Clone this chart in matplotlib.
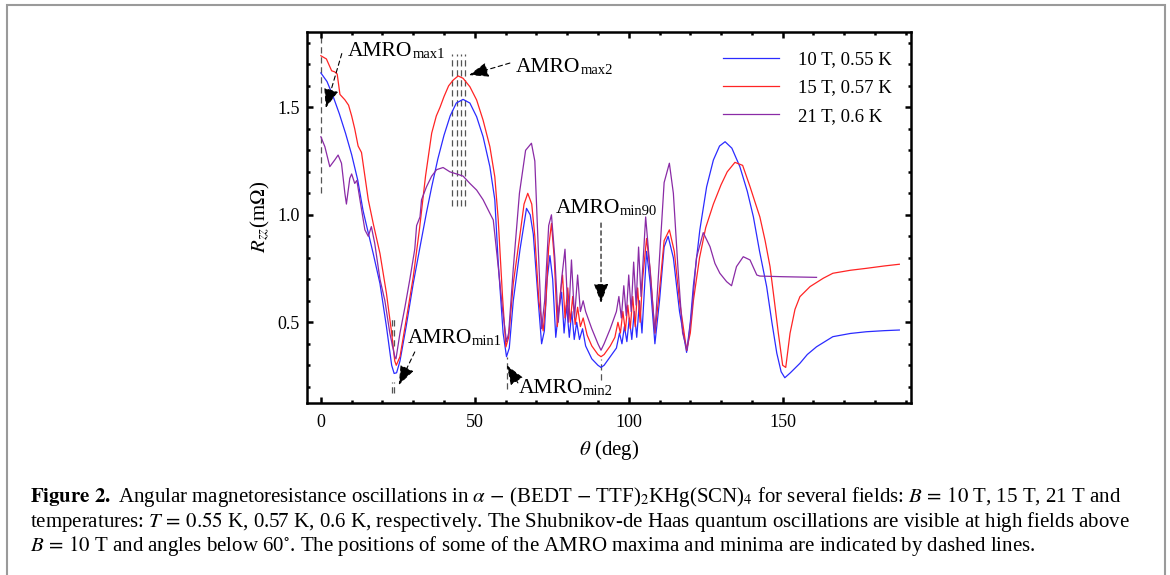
"""Angular magnetoresistance R_zz(theta) at three field/temperature settings."""

import matplotlib

matplotlib.use("Agg")
import matplotlib.pyplot as plt
from matplotlib.patches import Rectangle
from matplotlib.ticker import FormatStrFormatter, MultipleLocator

plt.rcParams["font.family"] = ["Liberation Serif", "DejaVu Serif"]
plt.rcParams["mathtext.fontset"] = "stix"

# --- measured curves (theta in deg, R_zz in mOhm) ---
theta_10T = [0, 2, 4, 6, 8, 10, 12, 13.7, 15, 17, 19.2, 21.3, 23, 23.8, 24.6, 25.7,
             27.7, 30, 32.2, 34.3, 36, 38, 40, 42, 44, 46.2, 48.4, 50.6, 52.7, 54.9,
             56.5, 57.6, 59.2, 60.3, 61.2, 62.5, 64.7, 66.8, 68, 69, 70.6, 71.7,
             72.6, 73.5, 74.4, 75.3, 76.3, 77.2, 78.2, 79, 79.8, 80.7, 81.5, 82.3,
             83.1, 84, 85, 86, 88, 90, 91, 92, 94, 96, 97, 97.8, 98.6, 99.4, 100.2,
             101, 101.8, 102.6, 103.5, 104.3, 105.8, 107, 108.5, 110, 111.5, 112.8,
             114.5, 116.5, 118.8, 120, 121, 123.1, 125.3, 127.5, 129.5, 131.3, 133.5,
             136.1, 138.5, 140.5, 142.5, 144.8, 146.5, 148.1, 149.5, 150.7, 152.5,
             155.6, 158, 161, 166.3, 172, 177.2, 183, 187.9]
r_10T = [1.66, 1.62, 1.55, 1.47, 1.38, 1.28, 1.16, 1.02, 0.94, 0.82, 0.68, 0.48, 0.30,
         0.262, 0.265, 0.32, 0.48, 0.68, 0.85, 1.01, 1.13, 1.26, 1.37, 1.46, 1.52,
         1.537, 1.52, 1.456, 1.363, 1.224, 1.07, 0.78, 0.45, 0.34, 0.38, 0.60, 0.84,
         1.03, 1.00, 0.91, 0.60, 0.40, 0.46, 0.70, 0.81, 0.70, 0.43, 0.55, 0.64, 0.45,
         0.58, 0.43, 0.55, 0.42, 0.50, 0.42, 0.47, 0.39, 0.33, 0.30, 0.29, 0.30, 0.34,
         0.38, 0.45, 0.40, 0.48, 0.41, 0.52, 0.42, 0.55, 0.43, 0.60, 0.45, 0.83, 0.68,
         0.40, 0.60, 0.85, 0.90, 0.80, 0.55, 0.36, 0.50, 0.67, 0.93, 1.13, 1.255, 1.32,
         1.34, 1.31, 1.224, 1.11, 0.99, 0.83, 0.666, 0.50, 0.356, 0.27, 0.242, 0.265,
         0.309, 0.35, 0.386, 0.433, 0.448, 0.456, 0.461, 0.464]

theta_15T = [0, 1.8, 3.5, 4.5, 5.3, 6.2, 7.8, 9, 10, 11, 12.1, 13.2, 14.8, 15.4, 17,
             19.2, 21.3, 23, 24, 24.5, 25.7, 27.7, 30, 32, 34, 36, 37.5, 38.7, 40,
             41.5, 43, 44.6, 46.2, 48.4, 50.6, 52.7, 54.9, 56.5, 57.6, 59, 60.1, 61,
             62.5, 64.7, 66, 67.2, 68.5, 69.5, 70.8, 72.2, 73, 74, 74.9, 75.8, 76.8,
             77.7, 78.5, 79.3, 80.2, 81, 81.8, 82.6, 83.4, 84.3, 85.2, 86.5, 88, 90,
             91, 92, 94, 95.5, 96.5, 97.3, 98.1, 98.9, 99.7, 100.5, 101.3, 102.1,
             102.9, 103.7, 104.5, 105.8, 107, 108.5, 110, 111.5, 113.2, 114.8, 116.5,
             118.8, 120, 121, 123, 125, 127.5, 130, 132, 134.5, 137, 139.4, 141, 142.6,
             144.3, 145.9, 147.3, 148.6, 150, 151, 152.4, 154, 155.6, 158.9, 163.2,
             166.3, 172, 177.2, 183, 187.9]
r_15T = [1.74, 1.725, 1.67, 1.665, 1.655, 1.56, 1.535, 1.51, 1.46, 1.40, 1.32, 1.29,
         1.13, 1.07, 0.96, 0.82, 0.635, 0.45, 0.32, 0.30, 0.34, 0.51, 0.71, 0.93, 1.18,
         1.38, 1.46, 1.50, 1.55, 1.60, 1.627, 1.646, 1.635, 1.596, 1.534, 1.44, 1.317,
         1.177, 0.98, 0.62, 0.385, 0.43, 0.68, 0.91, 1.05, 1.10, 1.05, 0.90, 0.60, 0.46,
         0.58, 0.85, 0.96, 0.80, 0.48, 0.62, 0.72, 0.52, 0.66, 0.50, 0.62, 0.49, 0.57,
         0.48, 0.52, 0.44, 0.39, 0.35, 0.34, 0.35, 0.39, 0.43, 0.50, 0.45, 0.55, 0.46,
         0.58, 0.47, 0.62, 0.48, 0.66, 0.50, 0.70, 0.89, 0.74, 0.45, 0.65, 0.88, 0.93,
         0.83, 0.60, 0.37, 0.45, 0.60, 0.80, 0.94, 1.05, 1.14, 1.20, 1.244, 1.23, 1.131,
         1.06, 0.99, 0.88, 0.759, 0.60, 0.449, 0.30, 0.29, 0.449, 0.56, 0.619, 0.666,
         0.705, 0.728, 0.742, 0.751, 0.762, 0.77]

theta_21T = [0, 1.3, 2.9, 4.5, 5.6, 6.7, 7.8, 8.3, 9.4, 10, 11, 11.7, 12.7, 14.3, 15.4,
             16.4, 17.5, 19.2, 20.8, 22.4, 24, 24.4, 25.7, 27.3, 28.9, 30.5, 31.1,
             32.2, 32.7, 34.3, 36, 37.6, 39.7, 41.9, 44.1, 46.2, 48.4, 50.6, 52.7, 54.9,
             56, 57.6, 59, 60.3, 61, 62.5, 64.5, 66.5, 68.4, 69.5, 70.6, 71.7, 72.7, 74,
             74.9, 76, 77.1, 78.2, 79.3, 80.4, 81.4, 82.4, 83.4, 84.3, 85.2, 86, 88, 90,
             91, 92, 94, 95, 96, 96.8, 97.6, 98.4, 99.2, 100, 100.8, 101.6, 102.4,
             103.2, 104, 105.5, 106.5, 108.5, 110, 111.5, 113.2, 114.5, 116, 117.5, 119,
             120.5, 122, 124.2, 126.4, 128, 129.6, 131.8, 133.4, 135, 137.2, 139.4,
             141.6, 142.6, 150, 161]
r_21T = [1.363, 1.317, 1.224, 1.255, 1.278, 1.24, 1.10, 1.05, 1.17, 1.19, 1.146, 1.16,
         1.07, 0.93, 0.90, 0.945, 0.867, 0.70, 0.60, 0.45, 0.34, 0.33, 0.45, 0.57, 0.70,
         0.84, 0.95, 0.99, 1.07, 1.13, 1.18, 1.21, 1.22, 1.20, 1.19, 1.18, 1.146, 1.115,
         1.07, 1.007, 0.976, 0.76, 0.56, 0.41, 0.45, 0.75, 1.10, 1.30, 1.333, 1.25,
         0.85, 0.47, 0.60, 0.95, 1.00, 0.80, 0.50, 0.70, 0.84, 0.50, 0.79, 0.52, 0.72,
         0.55, 0.60, 0.55, 0.47, 0.40, 0.37, 0.40, 0.47, 0.51, 0.55, 0.62, 0.52, 0.67,
         0.53, 0.72, 0.55, 0.78, 0.58, 0.85, 0.62, 0.99, 0.82, 0.45, 0.80, 1.15, 1.24,
         1.10, 0.75, 0.45, 0.37, 0.55, 0.80, 0.917, 0.852, 0.774, 0.728, 0.689, 0.67,
         0.759, 0.805, 0.79, 0.72, 0.715, 0.712, 0.709]

labels = ["10 T, 0.55 K", "15 T, 0.57 K", "21 T, 0.6 K"]
colors = ["#2b2bff", "#ff2424", "#8a2ba6"]

# dashed guide lines marking AMRO extrema (theta, y_start, y_end)
max1_guides = [(0.0, 1.10, 1.835)]
max2_guides = [(42.7, 1.04, 1.75), (44.1, 1.04, 1.75), (45.5, 1.04, 1.75), (46.9, 1.04, 1.75)]
min1_guides = [(23.1, 0.39, 0.52), (23.8, 0.39, 0.52), (23.1, 0.17, 0.22), (23.8, 0.17, 0.22)]
min2_guides = [(60.3, 0.19, 0.34)]
min90_guides = [(91.0, 0.23, 0.33)]

caption = [
    r"$\mathbf{Figure\ 2.}$ Angular magnetoresistance oscillations in $\alpha\,-\,$(BEDT $-$ TTF)$_2$KHg(SCN)$_4$ for several fields: $B\,=\,10$ T, 15 T, 21 T and",
    r"temperatures: $T\,=\,0.55$ K, 0.57 K, 0.6 K, respectively. The Shubnikov-de Haas quantum oscillations are visible at high fields above",
    r"$B\,=\,10$ T and angles below 60$^{\circ}$. The positions of some of the AMRO maxima and minima are indicated by dashed lines.",
]

fig = plt.figure(figsize=(11.7, 5.75), dpi=100)
ax = fig.add_axes([0.2624, 0.2997, 0.5160, 0.6441])

ax.set_xlim(-4.5, 191.6)
ax.set_ylim(0.126, 1.849)

guide_style = dict(color="#555555", linestyle=(0, (5, 3)), linewidth=0.9, zorder=1)
for guides in (max1_guides, max2_guides, min1_guides, min2_guides, min90_guides):
    for gx, y0, y1 in guides:
        ax.plot([gx, gx], [y0, y1], **guide_style)

for th, r, c, lab in zip((theta_10T, theta_15T, theta_21T), (r_10T, r_15T, r_21T), colors, labels):
    ax.plot(th, r, color=c, linewidth=0.9, label=lab, zorder=2)


def amro_label(x, y, sub):
    t = ax.text(x, y, "AMRO", fontsize=15.5, ha="left", va="bottom", zorder=4)
    ax.annotate(sub, xy=(1, 0), xycoords=t, fontsize=10.5, ha="left", va="bottom", zorder=4)


def dashed_arrow(start, end):
    ax.annotate("", xy=end, xytext=start, zorder=3,
                arrowprops=dict(arrowstyle="-|>,head_length=1.2,head_width=0.45",
                                color="black", linestyle=(0, (4, 3)), linewidth=0.8,
                                shrinkA=0, shrinkB=0))


amro_label(8.8, 1.715, "max1")
dashed_arrow((6.8, 1.75), (1.6, 1.497))
amro_label(63.4, 1.641, "max2")
dashed_arrow((61.4, 1.706), (48.1, 1.65))
amro_label(28.2, 0.38, "min1")
dashed_arrow((30.5, 0.362), (25.3, 0.208))
amro_label(64.3, 0.148, "min2")
dashed_arrow((64.0, 0.218), (60.4, 0.30))
amro_label(76.3, 0.985, "min90")
dashed_arrow((91.0, 0.962), (91.0, 0.59))

ax.set_xlabel(r"$\theta$ (deg)", fontsize=15, labelpad=5)
ax.set_ylabel(r"$R_{zz}$(m$\Omega$)", fontsize=15, labelpad=4)

ax.xaxis.set_major_locator(MultipleLocator(50))
ax.xaxis.set_minor_locator(MultipleLocator(10))
ax.yaxis.set_major_locator(MultipleLocator(0.5))
ax.yaxis.set_minor_locator(MultipleLocator(0.1))
ax.yaxis.set_major_formatter(FormatStrFormatter("%.1f"))
ax.tick_params(which="both", direction="in", top=True, right=True, labelsize=13, width=1.8)
ax.tick_params(which="major", length=4.5)
ax.tick_params(which="minor", length=2.5)
ax.tick_params(axis="x", which="major", pad=8)
ax.tick_params(axis="y", which="major", pad=5)
for sp in ax.spines.values():
    sp.set_linewidth(1.8)

leg = ax.legend(loc="upper right", bbox_to_anchor=(1.0, 1.0), frameon=False, fontsize=13.5,
                handlelength=3.0, handletextpad=1.0, labelspacing=0.6, borderaxespad=0.6)

# panel frame and caption
fig.patches.append(Rectangle((7 / 1170, -0.05), 1158 / 1170, 1.05 - 5 / 575,
                             transform=fig.transFigure, fill=False,
                             edgecolor="#9a9a9a", linewidth=1.5))
for i, line in enumerate(caption):
    fig.text(30 / 1170, 1 - (497 + 24.5 * i) / 575, line, fontsize=15, va="center", ha="left")

fig.savefig("out.png", dpi=100)
